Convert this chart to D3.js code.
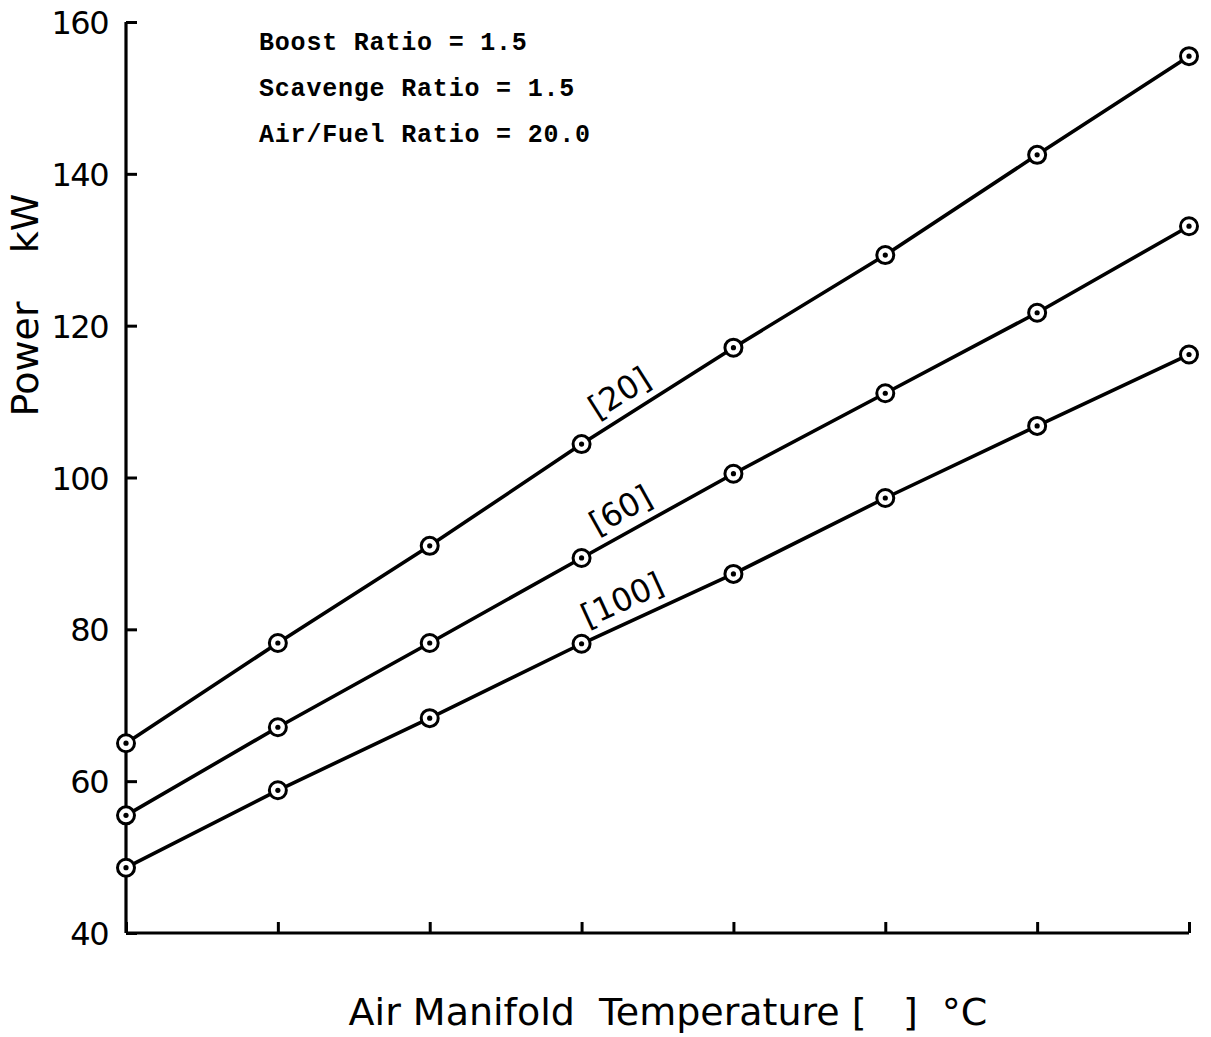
<!DOCTYPE html>
<html><head><meta charset="utf-8">
<script src="https://cdn.jsdelivr.net/npm/d3@7"></script>
<style>body{margin:0;background:#fff}svg{display:block}</style>
</head><body>
<script>
const xSteps = [0,1,2,3,4,5,6,7];
const yTicks = [40,60,80,100,120,140,160];
const seriesNames = ["[20]","[60]","[100]"];
const s20  = [65.0,78.2,91.0,104.4,117.1,129.3,142.5,155.5];
const s60  = [55.5,67.1,78.2,89.4,100.5,111.1,121.7,133.1];
const s100 = [48.6,58.8,68.3,78.1,87.3,97.3,106.8,116.2];
const notes = ["Boost Ratio = 1.5","Scavenge Ratio = 1.5","Air/Fuel Ratio = 20.0"];
const xTitle = "Air Manifold  Temperature [   ]  °C";
const yTitle = "Power    kW";

const W=1211,H=1037;
const svg=d3.select("body").append("svg").attr("width",W).attr("height",H);
const x=d3.scaleLinear().domain([0,7]).range([126,1189]);
const y=d3.scaleLinear().domain([40,160]).range([933,22]);
const ink="#000";
const g=svg.append("g");

// axes
const yAx=g.append("g").attr("transform",`translate(${x(0)},0)`)
 .call(d3.axisRight(y).tickValues(yTicks).tickSize(11).tickFormat(""));
yAx.select(".domain").attr("stroke-width",3.2).attr("d",`M0,${y(40)}V${y(160)}`);
yAx.selectAll(".tick line").attr("stroke-width",3);
const xAx=g.append("g").attr("transform",`translate(0,${y(40)})`)
 .call(d3.axisTop(x).tickValues(xSteps).tickSize(11).tickFormat(""));
xAx.select(".domain").attr("stroke-width",3.2).attr("d",`M${x(0)},0H${x(7)}`);
xAx.selectAll(".tick line").attr("stroke-width",3);

// y tick labels
g.selectAll(".yl").data(yTicks).enter().append("text")
 .attr("x",108).attr("y",d=>y(d)+12).attr("text-anchor","end")
 .attr("font-family","DejaVu Sans").attr("font-size",32).attr("letter-spacing",-1.5)
 .attr("fill",ink).text(d=>d);

// series
const all=[s20,s60,s100];
const line=d3.line().x((d,i)=>x(i)).y(d=>y(d));
all.forEach((s,k)=>{
  g.append("path").attr("d",line(s)).attr("fill","none").attr("stroke",ink).attr("stroke-width",3.6);
  g.selectAll(null).data(s).enter().append("circle")
   .attr("cx",(d,i)=>x(i)).attr("cy",d=>y(d)).attr("r",8.5).attr("fill","#fff").attr("stroke",ink).attr("stroke-width",3);
  g.selectAll(null).data(s).enter().append("circle")
   .attr("cx",(d,i)=>x(i)).attr("cy",d=>y(d)).attr("r",2.6).attr("fill",ink);
  const x0=x(3),y0=y(s[3]),x1=x(4),y1=y(s[4]);
  const ang=Math.atan2(y1-y0,x1-x0)*180/Math.PI;
  const t=0.33, px=x0+t*(x1-x0), py=y0+t*(y1-y0);
  g.append("text").attr("transform",`translate(${px},${py}) rotate(${ang})`)
   .attr("x",0).attr("y",-12).attr("text-anchor","middle")
   .attr("font-family","DejaVu Sans").attr("font-size",32).attr("fill",ink).text(seriesNames[k]);
});

// notes
g.selectAll(".note").data(notes).enter().append("text")
 .attr("x",259).attr("y",(d,i)=>50+i*46)
 .attr("font-family","Liberation Mono").attr("font-size",25).attr("font-weight","bold")
 .attr("letter-spacing",0.8).attr("fill",ink).text(d=>d);

// titles
g.append("text").attr("x",668).attr("y",1025).attr("text-anchor","middle")
 .attr("font-family","DejaVu Sans").attr("font-size",38).attr("fill",ink)
 .style("white-space","pre").text(xTitle);
g.append("text").attr("transform","translate(38,305) rotate(-90)").attr("text-anchor","middle")
 .attr("font-family","DejaVu Sans").attr("font-size",38).attr("fill",ink)
 .style("white-space","pre").text(yTitle);
</script>
</body></html>
